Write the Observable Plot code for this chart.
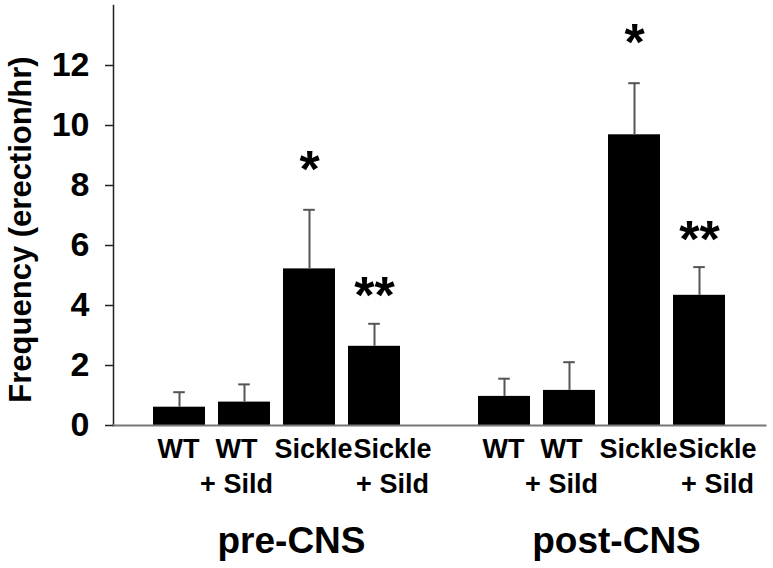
<!DOCTYPE html>
<html>
<head>
<meta charset="utf-8">
<script src="https://cdn.jsdelivr.net/npm/d3@7"></script>
<script src="https://cdn.jsdelivr.net/npm/@observablehq/plot@0.6"></script>
<style>
  html, body { margin: 0; padding: 0; background: #fff; }
</style>
</head>
<body>
<div id="chart"></div>
<script>
const groups = ["pre-CNS", "post-CNS"];
const conditions = ["WT", "WT\n+ Sild", "Sickle", "Sickle\n+ Sild"];
const preMean = [0.61, 0.78, 5.22, 2.64];
const preUpper = [1.11, 1.37, 7.19, 3.39];
const postMean = [0.97, 1.17, 9.69, 4.34];
const postUpper = [1.56, 2.11, 11.41, 5.28];
const significance = ["", "", "*", "**"];
const yTicks = [0, 2, 4, 6, 8, 10, 12];
const yLabel = "Frequency (erection/hr)";

const means = [preMean, postMean];
const uppers = [preUpper, postUpper];
const rows = [];
groups.forEach((g, gi) => {
  conditions.forEach((c, ci) => {
    rows.push({key: g + "|" + ci, idx: ci, group: g, cond: c, mean: means[gi][ci], upper: uppers[gi][ci], sig: significance[ci]});
  });
});
const xDomain = [
  ...conditions.map((c, ci) => groups[0] + "|" + ci),
  "gap",
  ...conditions.map((c, ci) => groups[1] + "|" + ci)
];
const groupRows = groups.map(g => ({group: g, key: g + "|1"}));

// label nudges to mimic the original typeset label row
const labelShift = [-1, -8, 4, 18];
const labelMarks = conditions.map((c, ci) =>
  Plot.text(rows.filter(d => d.idx === ci), {
    x: "key", text: "cond", frameAnchor: "bottom", lineAnchor: "top",
    dy: 7.5, dx: labelShift[ci], fontSize: 27, lineHeight: 1.3, fill: "#000"
  })
);

const chart = Plot.plot({
  width: 773,
  height: 568,
  marginLeft: 113,
  marginRight: 8,
  marginTop: 5,
  marginBottom: 143,
  style: {fontFamily: "'Liberation Sans', Arial, sans-serif", fontWeight: "bold", color: "#000", background: "#fff"},
  x: {domain: xDomain, type: "band", paddingInner: 0.195, paddingOuter: 0.54, axis: null},
  y: {domain: [0, 14], axis: null},
  marks: [
    Plot.barY(rows, {x: "key", y: "mean", fill: "#000"}),
    Plot.ruleX(rows, {x: "key", y1: "mean", y2: "upper", stroke: "#555", strokeWidth: 2}),
    Plot.tickY(rows, {x: "key", y: "upper", stroke: "#555", strokeWidth: 2, inset: 20.2}),
    Plot.text(rows.filter(d => d.sig === "*"), {x: "key", y: "upper", text: "sig", fontSize: 52, dy: -39.5, fill: "#000"}),
    Plot.text(rows.filter(d => d.sig === "**"), {x: "key", y: "upper", text: "sig", fontSize: 52, dy: -27, fill: "#000"}),
    Plot.frame({anchor: "left", stroke: "#222", strokeWidth: 1.5}),
    Plot.frame({anchor: "bottom", stroke: "#777", strokeWidth: 2}),
    Plot.axisY({ticks: yTicks, tickSize: 8, tickPadding: 16, fontSize: 34, label: null, stroke: "#222", strokeWidth: 1.5}),
    ...labelMarks,
    Plot.text(groupRows, {x: "key", text: "group", frameAnchor: "bottom", lineAnchor: "top", dy: 101, dx: 47, fontSize: 37, fill: "#000"}),
    Plot.text([yLabel], {text: d => d, frameAnchor: "left", textAnchor: "middle", rotate: -90, dx: -92, dy: 14, fontSize: 31, fill: "#000"})
  ]
});
document.getElementById("chart").appendChild(chart);
</script>
</body>
</html>
